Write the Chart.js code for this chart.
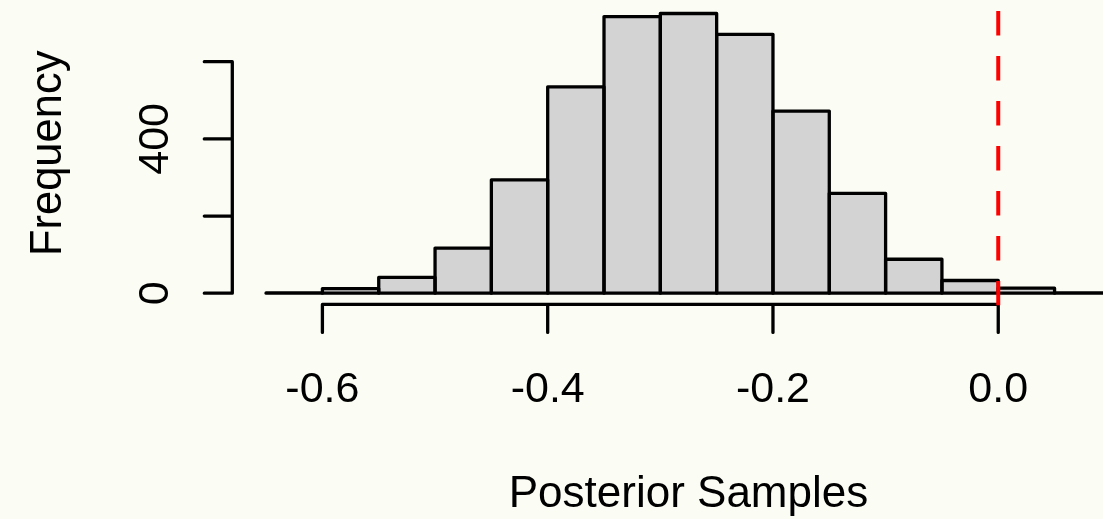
<!DOCTYPE html>
<html>
<head>
<meta charset="utf-8">
<script src="https://cdn.jsdelivr.net/npm/chart.js@4/dist/chart.umd.min.js"></script>
<style>
  html, body { margin: 0; padding: 0; background: #FBFCF3; }
  #wrap { width: 1103px; height: 519px; overflow: hidden; }
</style>
</head>
<body>
<div id="wrap"><canvas id="hist" width="1103" height="519"></canvas></div>
<script>
// histogram bins (centres, width 0.05) and counts
var binMids = [-0.625, -0.575, -0.525, -0.475, -0.425, -0.375, -0.325, -0.275,
               -0.225, -0.175, -0.125, -0.075, -0.025, 0.025, 0.075];
var counts  = [1, 12, 41, 117, 294, 535, 717, 725, 671, 472, 259, 88, 33, 13, 1];

var xTicks = [-0.6, -0.4, -0.2, 0.0];
var xTickLabels = ['-0.6', '-0.4', '-0.2', '0.0'];
var yTicks = [0, 200, 400, 600];
var yTickLabels = ['0', '', '400', ''];
var refLine = 0;

var FONT = '"Liberation Sans", Arial, Helvetica, sans-serif';
var LW = 3.3;

var points = binMids.map(function(m, i) { return {x: m, y: counts[i]}; });

// R style outlines: stroke centred on the bar edges
var outlinePlugin = {
    id: 'outline',
    afterDatasetsDraw: function(chart) {
        var ctx = chart.ctx;
        var area = chart.chartArea;
        ctx.save();
        ctx.beginPath();
        ctx.rect(area.left - 5, area.top - 5, area.right - area.left + 10, area.bottom - area.top + 10);
        ctx.clip();
        ctx.strokeStyle = '#000';
        ctx.lineWidth = LW;
        ctx.lineJoin = 'round';
        chart.getDatasetMeta(0).data.forEach(function(el) {
            var p = el.getProps(['x', 'y', 'base', 'width'], true);
            ctx.strokeRect(p.x - p.width / 2, p.y, p.width, p.base - p.y);
        });
        ctx.restore();
    }
};

var axesPlugin = {
    id: 'raxes',
    afterDraw: function(chart) {
        var ctx = chart.ctx;
        var xs = chart.scales.x, ys = chart.scales.y;
        var area = chart.chartArea;
        ctx.save();
        ctx.strokeStyle = '#000';
        ctx.fillStyle = '#000';
        ctx.lineWidth = LW;
        ctx.lineCap = 'round';

        // x axis
        var xb = area.bottom;
        ctx.beginPath();
        ctx.moveTo(xs.getPixelForValue(xTicks[0]), xb);
        ctx.lineTo(xs.getPixelForValue(xTicks[xTicks.length - 1]), xb);
        xTicks.forEach(function(t) {
            var px = xs.getPixelForValue(t);
            ctx.moveTo(px, xb);
            ctx.lineTo(px, xb + 28);
        });
        ctx.stroke();
        ctx.font = '43px ' + FONT;
        ctx.textAlign = 'center';
        ctx.textBaseline = 'alphabetic';
        xTicks.forEach(function(t, i) {
            ctx.fillText(xTickLabels[i], xs.getPixelForValue(t), 401.7);
        });

        // y axis
        var yl = area.left;
        ctx.beginPath();
        ctx.moveTo(yl, ys.getPixelForValue(yTicks[0]));
        ctx.lineTo(yl, ys.getPixelForValue(yTicks[yTicks.length - 1]));
        yTicks.forEach(function(t) {
            var py = ys.getPixelForValue(t);
            ctx.moveTo(yl, py);
            ctx.lineTo(yl - 28, py);
        });
        ctx.stroke();
        yTicks.forEach(function(t, i) {
            if (!yTickLabels[i]) return;
            ctx.save();
            ctx.translate(168, ys.getPixelForValue(t));
            ctx.rotate(-Math.PI / 2);
            ctx.fillText(yTickLabels[i], 0, 0);
            ctx.restore();
        });

        // axis titles
        ctx.font = '44px ' + FONT;
        ctx.fillText('Posterior Samples', (area.left + xs.getPixelForValue(0.13)) / 2, 507.3);
        ctx.save();
        ctx.translate(61, (area.top + area.bottom) / 2);
        ctx.rotate(-Math.PI / 2);
        ctx.font = '43.5px ' + FONT;
        ctx.fillText('Frequency', 0, 0);
        ctx.restore();

        // abline(v = 0, col = "red", lty = 2)
        ctx.beginPath();
        ctx.rect(area.left, area.top, area.right - area.left, area.bottom - area.top + 1);
        ctx.clip();
        var rx = xs.getPixelForValue(refLine);
        ctx.strokeStyle = '#FF0000';
        ctx.lineWidth = 4;
        ctx.lineCap = 'butt';
        ctx.setLineDash([24.5, 20.5]);
        ctx.beginPath();
        ctx.moveTo(rx, area.bottom + 1);
        ctx.lineTo(rx, area.top);
        ctx.stroke();
        ctx.restore();
    }
};

new Chart(document.getElementById('hist'), {
    type: 'bar',
    data: {
        datasets: [{
            label: 'Frequency',
            data: points,
            backgroundColor: '#D3D3D3',
            borderWidth: 0,
            barPercentage: 1,
            categoryPercentage: 1
        }]
    },
    options: {
        responsive: false,
        animation: false,
        layout: {
            padding: { left: 232.3, top: 2.3, right: 0, bottom: 519 - 304.4 }
        },
        plugins: {
            legend: { display: false },
            tooltip: { enabled: false }
        },
        scales: {
            x: { type: 'linear', display: false, offset: false, min: -0.68, max: 0.093 },
            y: { display: false, min: -29, max: 754 }
        }
    },
    plugins: [outlinePlugin, axesPlugin]
});
</script>
</body>
</html>
